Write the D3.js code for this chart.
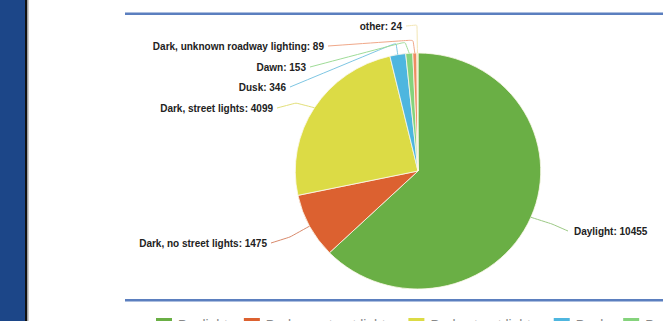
<!DOCTYPE html>
<html>
<head>
<meta charset="utf-8">
<script src="https://cdn.jsdelivr.net/npm/d3@7"></script>
<style>
  html, body { margin: 0; padding: 0; background: #fff; overflow: hidden; }
  svg { display: block; }
</style>
</head>
<body>
<svg id="chart" width="663" height="321"></svg>
<script>
// Crash counts by lighting condition
const categories = [
  "Daylight",
  "Dark, no street lights",
  "Dark, street lights",
  "Dusk",
  "Dawn",
  "Dark, unknown roadway lighting",
  "other"
];
const counts = [10455, 1475, 4099, 346, 153, 89, 24];
const colors = ["#6aaf45", "#dc6130", "#dcdb45", "#4eb6df", "#85d37c", "#ee8c62", "#f6e39c"];
const lineColors = ["#9cc985", "#d98a6c", "#e3e07a", "#7ec6e3", "#9fdc98", "#f0a889", "#f3e6b4"];

// Label placement: text anchor point and leader elbow, relative to pie centre
const labelLayout = [
  { side: "start", tx: 156, ty: 60, ex: 134, ey: 53 },
  { side: "end",   tx: -151, ty: 72, ex: -128, ey: 66 },
  { side: "end",   tx: -145, ty: -63, ex: -122, ey: -68 },
  { side: "end",   tx: -132, ty: -84, ex: -22, ey: -128 },
  { side: "end",   tx: -112, ty: -104, ex: -13, ey: -129 },
  { side: "end",   tx: -94, ty: -125, ex: -5, ey: -131 },
  { side: "end",   tx: -16, ty: -145, ex: -1, ey: -146 }
];

const svg = d3.select("#chart");
const W = 663, H = 321;

// left banner strip
svg.append("rect").attr("x", 0).attr("y", 0).attr("width", 25).attr("height", H).attr("fill", "#1c4688");
svg.append("rect").attr("x", 25).attr("y", 0).attr("width", 2.2).attr("height", H).attr("fill", "#111");
svg.append("rect").attr("x", 27.2).attr("y", 0).attr("width", 1.3).attr("height", H).attr("fill", "#9a9a9a");

// horizontal rules
[13.7, 300.2].forEach(y => {
  svg.append("line").attr("x1", 125).attr("x2", W).attr("y1", y).attr("y2", y)
    .attr("stroke", "#5b7fbf").attr("stroke-width", 2.4);
});

const cx = 418, cy = 171, r = 118, sx = 1.04;
const data = categories.map((c, i) => ({ name: c, value: counts[i], color: colors[i], line: lineColors[i], layout: labelLayout[i] }));

const pie = d3.pie().value(d => d.value).sort(null);
const arc = d3.arc().innerRadius(0).outerRadius(r);
const arcs = pie(data);

const g = svg.append("g").attr("transform", `translate(${cx},${cy})`);

g.append("g").attr("transform", `scale(${sx},1)`)
  .selectAll("path.slice").data(arcs).join("path")
  .attr("class", "slice")
  .attr("d", arc)
  .attr("fill", d => d.data.color)
  .attr("stroke", "#fbf8ea")
  .attr("stroke-width", 0.8);

// leader lines from each slice edge to its label
function edgePoint(d) {
  const a = (d.startAngle + d.endAngle) / 2;
  return [Math.sin(a) * r * sx, -Math.cos(a) * r];
}

g.selectAll("path.leader").data(arcs).join("path")
  .attr("class", "leader")
  .attr("fill", "none")
  .attr("stroke", d => d.data.line)
  .attr("stroke-width", 1)
  .attr("d", d => {
    const L = d.data.layout;
    const p0 = edgePoint(d);
    const gap = L.side === "start" ? -6 : 4;
    const end = [L.tx + gap, L.ty];
    const line = d3.line().curve(d3.curveBasis);
    return line([p0, [L.ex, L.ey], [L.ex, L.ey], end]);
  });

g.selectAll("text.lbl").data(arcs).join("text")
  .attr("class", "lbl")
  .attr("x", d => d.data.layout.tx)
  .attr("y", d => d.data.layout.ty)
  .attr("dy", "0.35em")
  .attr("text-anchor", d => d.data.layout.side)
  .attr("font-family", "Liberation Sans, Arial, sans-serif")
  .attr("font-weight", "bold")
  .attr("font-size", 10)
  .attr("fill", "#222")
  .text(d => `${d.data.name}: ${d.data.value}`);

// legend along the bottom edge
const legend = svg.append("g").attr("transform", "translate(156,318)");
let lx = 0;
data.forEach(d => {
  const item = legend.append("g").attr("transform", `translate(${lx},0)`);
  item.append("rect").attr("width", 16).attr("height", 16).attr("fill", d.color);
  const t = item.append("text").attr("x", 22).attr("y", 12)
    .attr("font-family", "Liberation Sans, Arial, sans-serif")
    .attr("font-size", 13.8).attr("fill", "#888").text(d.name);
  lx += 22 + t.node().getComputedTextLength() + 16;
});
</script>
</body>
</html>
